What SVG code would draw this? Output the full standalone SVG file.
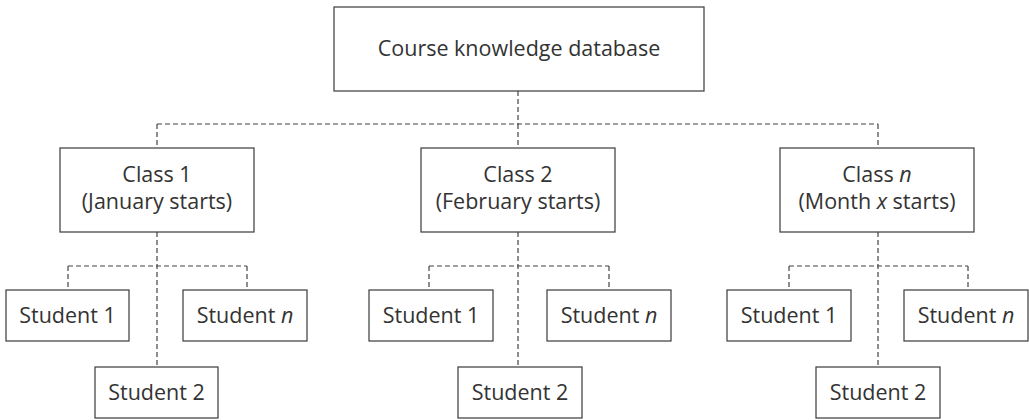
<svg xmlns="http://www.w3.org/2000/svg" width="1029" height="420" viewBox="0 0 1029 420">
<style>
rect{fill:#fff;stroke:#3a3a3a;stroke-width:1.2}
text{font-family:"Open Sans","Liberation Sans",sans-serif;font-size:21.5px;fill:#333;text-anchor:middle}
.c line{stroke:#444;stroke-width:1.2;stroke-dasharray:5 3}
</style>
<rect x="0" y="0" width="1029" height="420" style="stroke:none"/>
<g class="c" id="connectors">
<line x1="518" y1="91" x2="518" y2="124"/>
<line x1="157" y1="124" x2="878" y2="124"/>
<line x1="157" y1="124" x2="157" y2="148"/>
<line x1="518" y1="124" x2="518" y2="148"/>
<line x1="878" y1="124" x2="878" y2="148"/>
<line x1="157" y1="232" x2="157" y2="367"/>
<line x1="68" y1="266" x2="247" y2="266"/>
<line x1="68" y1="266" x2="68" y2="290"/>
<line x1="247" y1="266" x2="247" y2="290"/>
<line x1="518" y1="232" x2="518" y2="367"/>
<line x1="429" y1="266" x2="609" y2="266"/>
<line x1="429" y1="266" x2="429" y2="290"/>
<line x1="609" y1="266" x2="609" y2="290"/>
<line x1="878" y1="232" x2="878" y2="367"/>
<line x1="789" y1="266" x2="968" y2="266"/>
<line x1="789" y1="266" x2="789" y2="290"/>
<line x1="968" y1="266" x2="968" y2="290"/>
</g>
<g id="db"><rect x="334" y="7" width="370" height="84"/><text x="519" y="56">Course knowledge database</text></g>
<g id="class1"><rect x="60" y="148" width="194" height="84"/><text x="157" y="182">Class 1</text><text x="157" y="209">(January starts)</text></g>
<g id="class2"><rect x="421" y="148" width="194" height="84"/><text x="518" y="182">Class 2</text><text x="518" y="209">(February starts)</text></g>
<g id="classn"><rect x="780" y="148" width="194" height="84"/><text x="877" y="182">Class <tspan font-style="italic">n</tspan></text><text x="877" y="209">(Month <tspan font-style="italic">x</tspan> starts)</text></g>
<g id="c1s1"><rect x="6" y="290" width="123" height="51"/><text x="67.5" y="323">Student 1</text></g>
<g id="c1sn"><rect x="183" y="290" width="124" height="51"/><text x="245" y="323">Student <tspan font-style="italic">n</tspan></text></g>
<g id="c1s2"><rect x="95" y="367" width="123" height="51"/><text x="156.5" y="400">Student 2</text></g>
<g id="c2s1"><rect x="369" y="290" width="124" height="51"/><text x="431" y="323">Student 1</text></g>
<g id="c2sn"><rect x="547" y="290" width="124" height="51"/><text x="609" y="323">Student <tspan font-style="italic">n</tspan></text></g>
<g id="c2s2"><rect x="458" y="367" width="124" height="51"/><text x="520" y="400">Student 2</text></g>
<g id="c3s1"><rect x="727" y="290" width="124" height="51"/><text x="789" y="323">Student 1</text></g>
<g id="c3sn"><rect x="904" y="290" width="124" height="51"/><text x="966" y="323">Student <tspan font-style="italic">n</tspan></text></g>
<g id="c3s2"><rect x="816" y="367" width="124" height="51"/><text x="878" y="400">Student 2</text></g>
</svg>
